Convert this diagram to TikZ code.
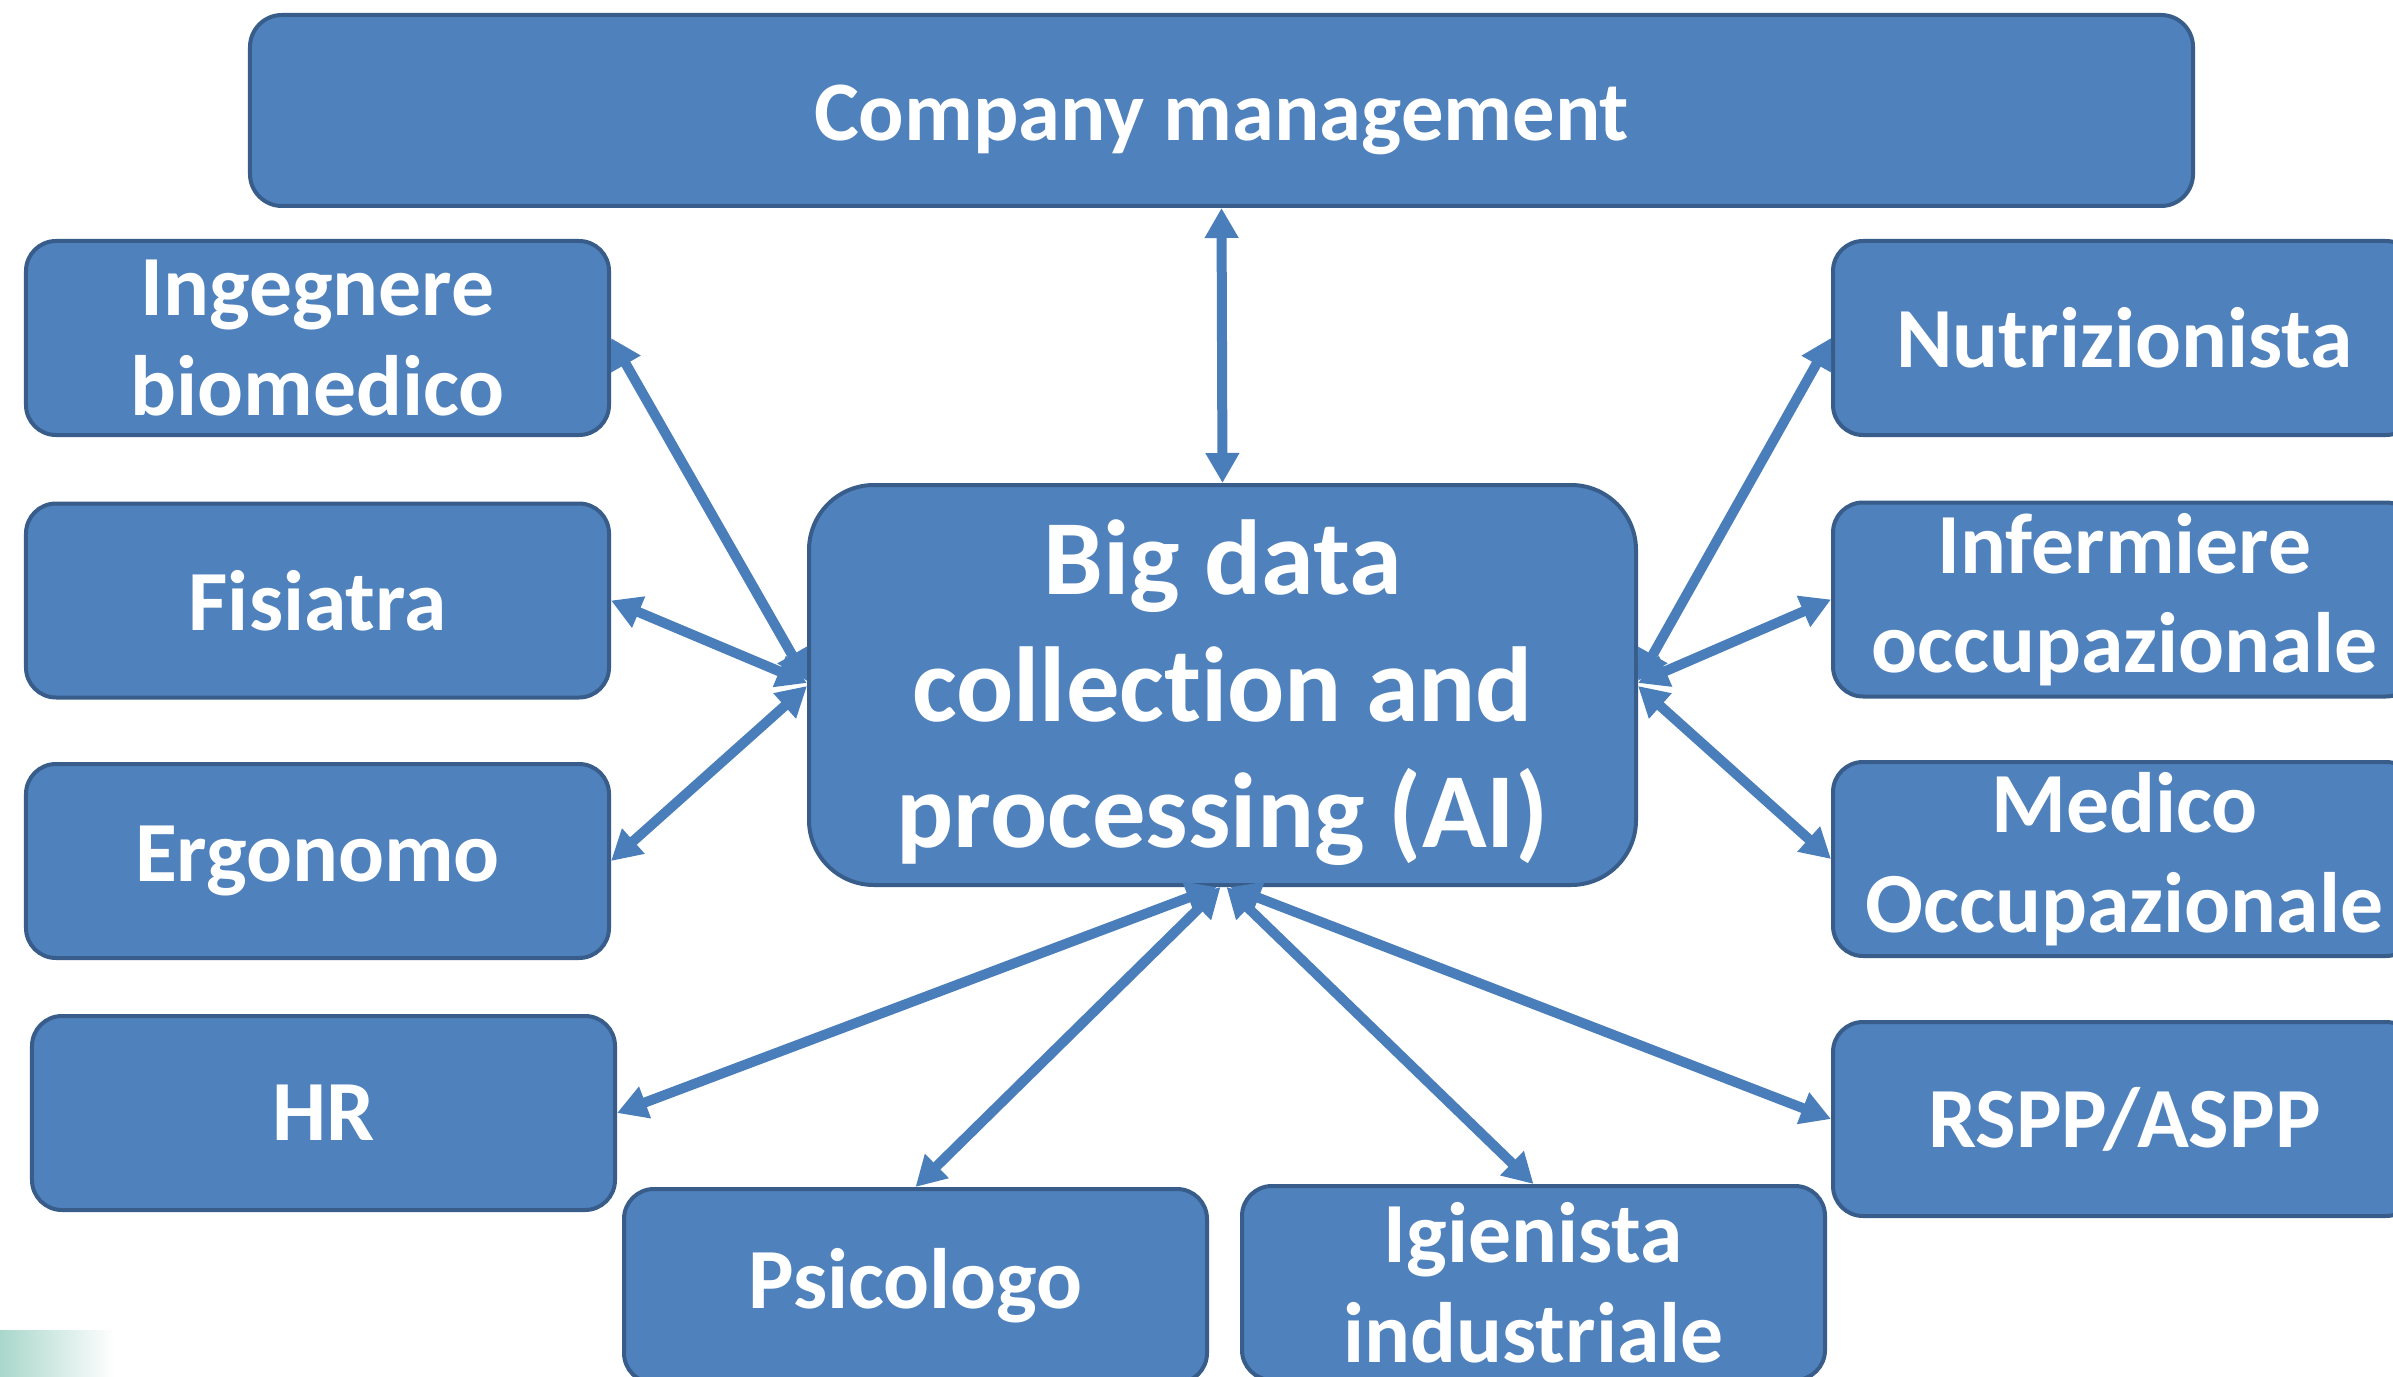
\documentclass[tikz,border=0pt]{standalone}
\usepackage{fontspec}
\setmainfont{Carlito}[Ligatures=NoCommon]
\usetikzlibrary{arrows.meta,calc}
\definecolor{boxfill}{HTML}{4F81BD}
\definecolor{boxline}{HTML}{385D8A}
\definecolor{arrowc}{HTML}{4A7EBB}
\definecolor{teal}{HTML}{A9D7CB}
\begin{document}
\begin{tikzpicture}[x=1bp,y=-1bp,
 box/.style={draw=boxline, line width=4bp, fill=boxfill, rounded corners=30bp, text=white,
   font=\bfseries\fontsize{86}{100}\selectfont, align=center,
   minimum width=583bp, minimum height=194bp, inner sep=0pt},
 bigbox/.style={box, rounded corners=65bp, minimum width=827bp, minimum height=400bp},
 bigtext/.style={text=white, font=\bfseries\fontsize{107}{127}\selectfont, align=center},
 link/.style={draw=arrowc, line width=10bp,
   {Triangle[length=30bp,width=32bp]}-{Triangle[length=30bp,width=32bp]}}]
\useasboundingbox (0,0) rectangle (2393,1377);
\clip (0,0) rectangle (2393,1377);
\fill[white] (0,0) rectangle (2393,1377);
\shade[left color=teal, right color=white] (0,1330) rectangle (115,1377);

\node[box, rounded corners=32bp, minimum width=1943bp, minimum height=191bp,
  font=\bfseries\fontsize{85}{100}\selectfont, text height=75bp, text depth=14bp] (cm) at (1221.5,110.5) {Company management};
\node[bigbox] (big) at (1222.5,685) {};
\node[bigtext] (bigtxt) at (1222.5,693) {Big data\\collection and\\processing (AI)};

\node[box] (ing) at (317.5,338) {Ingegnere\\biomedico};
\node[box] (fis) at (317.5,600.5) {Fisiatra};
\node[box] (erg) at (317.5,861) {Ergonomo};
\node[box] (hr) at (323.5,1113) {HR};
\node[box] (psi) at (915.5,1286) {Psicologo};
\node[box] (igi) at (1533.5,1283) {Igienista\\industriale};
\node[box] (nut) at (2124.5,338) {Nutrizionista};
\node[box] (inf) at (2124.5,599.5) {Infermiere\\occupazionale};
\node[box] (med) at (2124.5,859) {Medico\\Occupazionale};
\node[box] (rspp) at (2124.5,1119) {RSPP/ASPP};

\draw[link] (cm.south) -- (big.north);
\draw[link] (ing.east) -- ([yshift=4bp]big.west);
\draw[link] (fis.east) -- ([yshift=2bp]big.west);
\draw[link] (erg.east) -- ([yshift=-1bp]big.west);
\draw[link] (nut.west) -- ([yshift=4bp]big.east);
\draw[link] (inf.west) -- ([yshift=2bp]big.east);
\draw[link] (med.west) -- ([yshift=-1bp]big.east);
\draw[link] (hr.east) -- ([xshift=-6bp]big.south);
\draw[link] (psi.north) -- ([xshift=-2bp]big.south);
\draw[link] (igi.north) -- ([xshift=4bp]big.south);
\draw[link] (rspp.west) -- ([xshift=8bp]big.south);
\end{tikzpicture}
\end{document}
